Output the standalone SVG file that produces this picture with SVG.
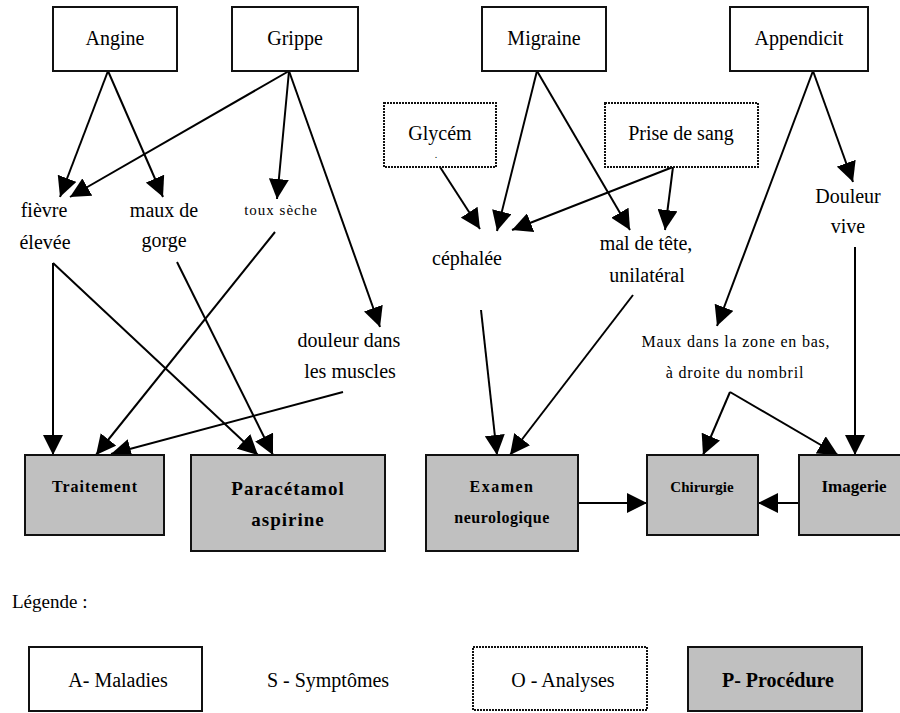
<svg xmlns="http://www.w3.org/2000/svg" width="900" height="713" viewBox="0 0 900 713">
<style>
text{font-family:"Liberation Serif","Times New Roman",Times,"DejaVu Serif","Noto Serif",serif;fill:#000;text-anchor:middle}
.t{font-size:20px}
.s{font-size:15px;letter-spacing:1px}
.m{font-size:16px;letter-spacing:0.8px}
.b{font-weight:bold}
.dis{fill:#fff;stroke:#111;stroke-width:2}
.ana{fill:#fff;stroke:#111;stroke-width:2;stroke-dasharray:2 1}
.pro{fill:#c0c0c0;stroke:#111;stroke-width:2}
.c path{fill:none;stroke:#000;stroke-width:2;marker-end:url(#ah)}
</style>
<defs>
<marker id="ah" markerUnits="userSpaceOnUse" markerWidth="20" markerHeight="20" viewBox="0 0 20 20" refX="20" refY="10" orient="auto">
<path d="M0,0 L20,10 L0,20 Z" fill="#000"/>
</marker>
</defs>
<rect width="900" height="713" fill="#fff"/>

<g id="connectors" class="c">
<path d="M108,71 L60,197"/>
<path d="M108,71 L163,197"/>
<path d="M289,71 L70,197"/>
<path d="M289,71 L277,199"/>
<path d="M289,71 L380,327"/>
<path d="M53,263 L53,455"/>
<path d="M53,263 L258,455"/>
<path d="M177,262 L273,455"/>
<path d="M275,232 L96,455"/>
<path d="M343,392 L111,454"/>
<path d="M440,167 L480,229"/>
<path d="M537,71 L497,231"/>
<path d="M673,167 L512,230"/>
<path d="M537,71 L630,230"/>
<path d="M673,167 L665,230"/>
<path d="M813,71 L853,182"/>
<path d="M813,71 L717,326"/>
<path d="M481,310 L497,455"/>
<path d="M633,295 L510,455"/>
<path d="M730,392 L703,455"/>
<path d="M730,392 L838,455"/>
<path d="M855,247 L855,455"/>
<path d="M578,503 L647,503"/>
<path d="M799,503 L758,503"/>
</g>

<g id="angine"><rect class="dis" x="53" y="7" width="124" height="64"/><text class="t" x="115" y="45">Angine</text></g>
<g id="grippe"><rect class="dis" x="232" y="7" width="126" height="64"/><text class="t" x="295" y="45">Grippe</text></g>
<g id="migraine"><rect class="dis" x="482" y="7" width="124" height="64"/><text class="t" x="544" y="45">Migraine</text></g>
<g id="appendicit"><rect class="dis" x="730" y="7" width="138" height="64"/><text class="t" x="799" y="45">Appendicit</text></g>

<g id="glycem"><rect class="ana" x="384" y="103" width="112" height="64"/><text class="t" x="440" y="140">Glycém</text><text x="436" y="158" style="font-size:10px">.</text></g>
<g id="prise-de-sang"><rect class="ana" x="605" y="103" width="153" height="64"/><text class="t" x="681" y="140">Prise de sang</text></g>

<g id="fievre"><text class="t" x="44" y="217">fièvre</text><text class="t" x="45" y="249">élevée</text></g>
<g id="maux-de-gorge"><text class="t" x="164" y="217">maux de</text><text class="t" x="164" y="247">gorge</text></g>
<g id="toux-seche"><text class="s" x="281" y="215">toux sèche</text></g>
<g id="douleur-muscles"><text class="t" x="349" y="347">douleur dans</text><text class="t" x="350" y="378">les muscles</text></g>
<g id="cephalee"><text class="t" x="467" y="265">céphalée</text></g>
<g id="mal-de-tete"><text class="t" x="646" y="250">mal de tête,</text><text class="t" x="647" y="282">unilatéral</text></g>
<g id="douleur-vive"><text class="t" x="848" y="203">Douleur</text><text class="t" x="848" y="233">vive</text></g>
<g id="maux-zone"><text class="m" x="736" y="347">Maux dans la zone en bas,</text><text class="m" x="735" y="378">à droite du nombril</text></g>

<g id="traitement"><rect class="pro" x="25" y="455" width="139" height="80"/><text class="b" x="95" y="492" style="font-size:16px;letter-spacing:1px">Traitement</text></g>
<g id="paracetamol"><rect class="pro" x="191" y="455" width="194" height="96"/><text class="b" x="288" y="495" style="font-size:19px;letter-spacing:1px">Paracétamol</text><text class="b" x="288" y="526" style="font-size:19px;letter-spacing:1px">aspirine</text></g>
<g id="examen"><rect class="pro" x="426" y="455" width="152" height="96"/><text class="b" x="502" y="492" style="font-size:16px;letter-spacing:1.5px">Examen</text><text class="b" x="502" y="523" style="font-size:16px;letter-spacing:0.5px">neurologique</text></g>
<g id="chirurgie"><rect class="pro" x="647" y="455" width="111" height="80"/><text class="b" x="702" y="492" style="font-size:15px">Chirurgie</text></g>
<g id="imagerie"><rect class="pro" x="799" y="455" width="115" height="80"/><text class="b" x="854" y="492" style="font-size:17px">Imagerie</text></g>

<g id="legende">
<text x="12" y="608" style="font-size:19px;text-anchor:start">Légende :</text>
<rect class="dis" x="29" y="647" width="173" height="64"/>
<text class="t" x="118" y="687">A- Maladies</text>
<text class="t" x="328" y="687">S - Symptômes</text>
<rect class="ana" x="473" y="647" width="174" height="63"/>
<text class="t" x="563" y="687">O - Analyses</text>
<rect class="pro" x="688" y="647" width="174" height="64"/>
<text class="t b" x="778" y="687">P- Procédure</text>
</g>
</svg>
